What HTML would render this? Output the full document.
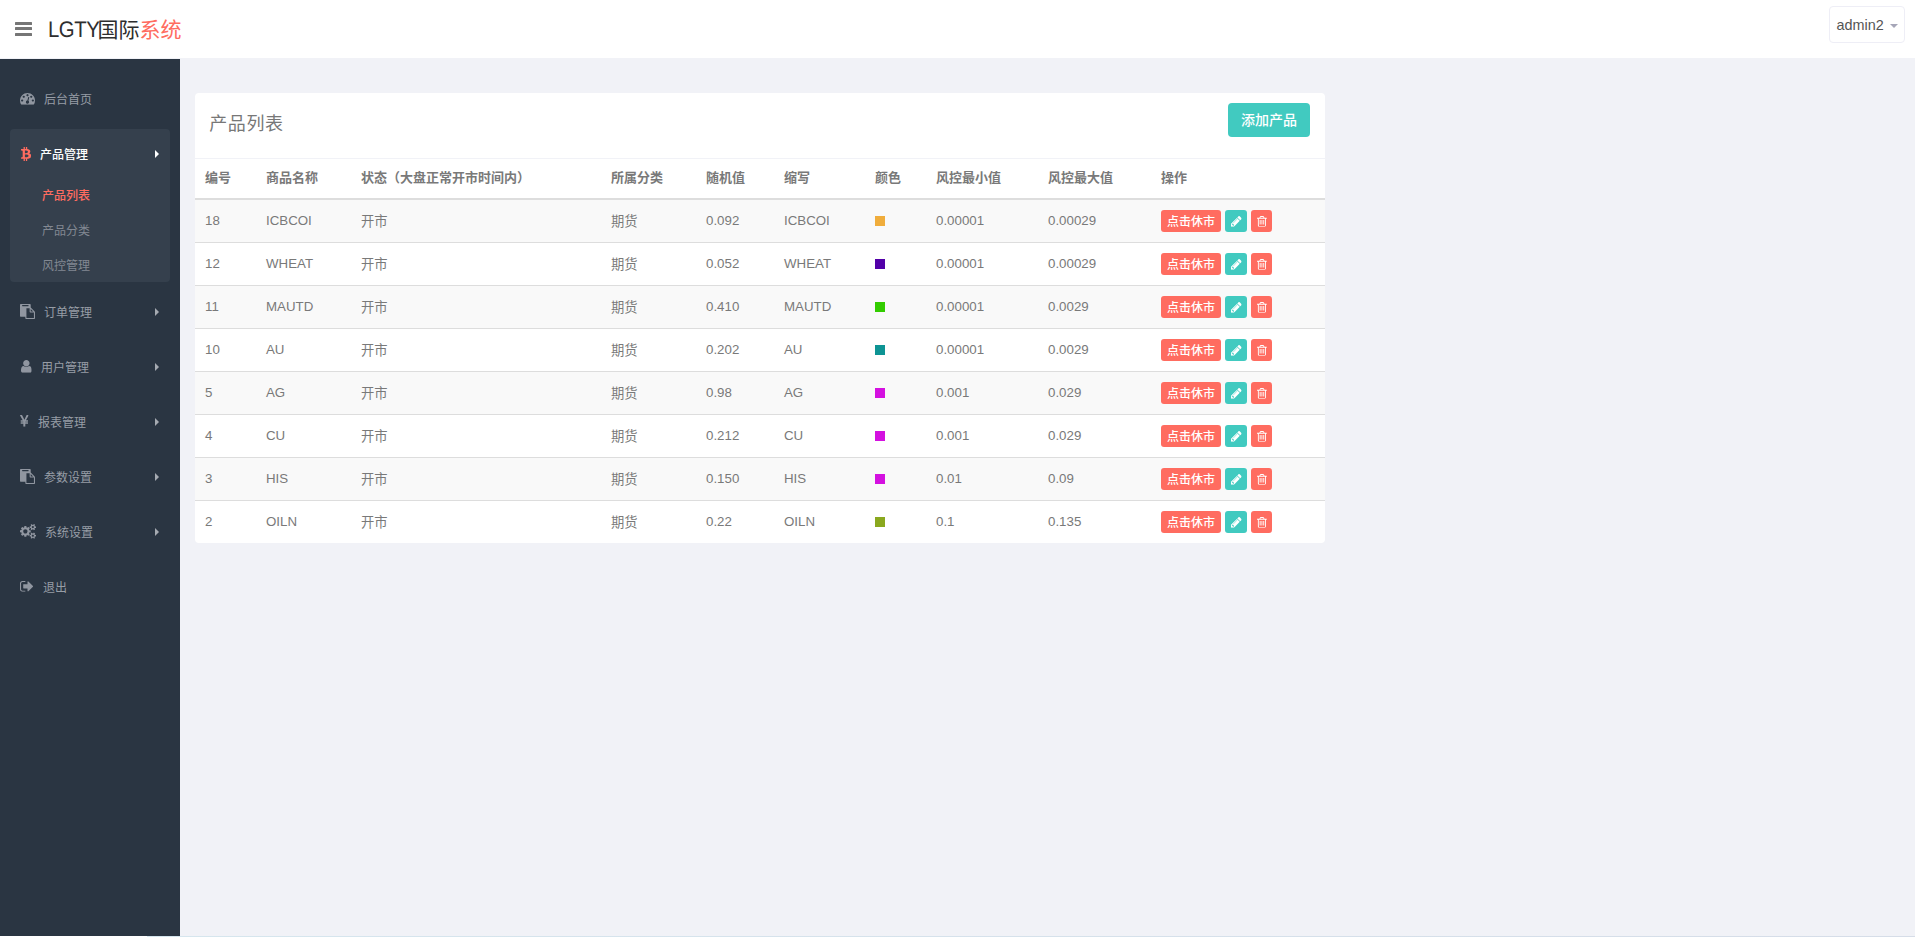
<!DOCTYPE html>
<html lang="zh-CN">
<head>
<meta charset="utf-8">
<title>LGTY国际系统</title>
<style>
*{box-sizing:border-box;}
html,body{margin:0;padding:0;}
body{width:1915px;height:937px;overflow:hidden;background:#f1f2f7;color:#797979;font-family:"Liberation Sans","Noto Sans CJK SC",sans-serif;font-size:13px;position:relative;}
a{text-decoration:none;color:inherit;}
ul{list-style:none;margin:0;padding:0;}
svg{display:block;}

/* header */
#header{position:absolute;left:0;top:0;width:1915px;height:58px;background:#fff;}
#bars{position:absolute;left:15px;top:22px;width:17px;height:14px;}
#bars i{position:absolute;left:0;width:17px;height:3px;background:#767676;border-radius:.5px;}
#logo{position:absolute;left:47.6px;top:15px;height:30px;line-height:30px;font-size:21px;color:#2e2e2e;white-space:nowrap;}
#logo .lat{position:absolute;left:0px;top:0px;font-size:22.6px;letter-spacing:-.5px;transform:scaleX(.9);transform-origin:0 50%;text-rendering:geometricPrecision;}
#logo .cjk{position:absolute;left:50px;top:0;}
#logo .cjk span{color:#ff6c60;}
#user{position:absolute;left:1829px;top:6px;width:76px;height:37px;border:1px solid #eeeef6;border-radius:4px;background:#fff;color:#555;font-size:14.4px;line-height:37px;padding-left:6.5px;}
#user b{position:absolute;left:60px;top:17px;width:0;height:0;border-left:4px solid transparent;border-right:4px solid transparent;border-top:4px solid #a6a6b8;}

/* sidebar */
#sidebar{position:absolute;left:0;top:59px;width:180px;height:877px;background:#2a3542;}
#bottomline{position:absolute;left:0;top:936px;width:1915px;height:1px;background:linear-gradient(90deg,#fff 0,#fff 147px,#d6e6ee 147px,#d6dde8 100%);}
.mi{position:absolute;left:10px;width:160px;height:50px;color:#979da6;font-size:12px;line-height:50px;}
.ic{position:absolute;overflow:visible;}
.mi .t{position:absolute;top:1px;white-space:nowrap;}
.mi .car{position:absolute;left:145px;top:21px;width:0;height:0;border-top:4px solid transparent;border-bottom:4px solid transparent;border-left:4px solid #a5aab1;}
#grp{position:absolute;left:10px;top:70px;width:160px;height:153px;background:#35404d;border-radius:4px;}
.sub{position:absolute;left:42px;font-size:12px;color:#828892;line-height:35px;height:35px;white-space:nowrap;}

/* card */
#card{position:absolute;left:195px;top:93px;width:1130px;height:450px;background:#fff;border-radius:4px;overflow:hidden;}
#ctitle{position:absolute;left:14.3px;top:15.5px;font-size:18px;line-height:30px;color:#777;white-space:nowrap;letter-spacing:.55px;}
#addbtn{position:absolute;left:1033px;top:10px;width:82px;height:34px;background:#41cac0;border-radius:4px;color:#fff;font-size:14px;line-height:35px;text-align:center;font-weight:500;}
#hline{position:absolute;left:0;top:65px;width:1130px;height:1px;background:#f1f2f7;}
table{position:absolute;left:0;top:65px;width:1130px;border-collapse:collapse;table-layout:fixed;}
th{height:41px;padding:0 0 3px 10px;text-align:left;font-weight:bold;font-size:13px;color:#797979;border-bottom:2px solid #ddd;white-space:nowrap;}
td{height:43px;padding:0 0 0 10px;font-size:13.3px;color:#797979;border-top:1px solid #ddd;white-space:nowrap;vertical-align:middle;}
tbody tr:nth-child(odd) td{background:#f9f9f9;}
.sq{display:block;width:10px;height:10px;}
.ops{position:relative;height:20px;}
.b1{font-weight:500;position:absolute;left:0;top:-1px;width:60px;height:22px;background:#ff6c60;border-radius:3px;color:#fff;font-size:12px;line-height:25px;text-align:center;}
.b2{position:absolute;left:64px;top:-1px;width:22px;height:22px;background:#41cac0;border-radius:3px;}
.b3{position:absolute;left:90px;top:-1px;width:21px;height:22px;background:#ff6c60;border-radius:3px;}
.b2 svg,.b3 svg{position:absolute;}
</style>
</head>
<body>
<svg width="0" height="0" style="position:absolute"><symbol id="i-dash" viewBox="0 256 1792 1408" preserveAspectRatio="none"><path d="M384 1152q0-53-37.500-90.500t-90.500-37.500-90.500 37.500-37.500 90.500 37.500 90.500 90.500 37.500 90.500-37.500 37.500-90.500zm192-448q0-53-37.500-90.500t-90.500-37.500-90.500 37.500-37.500 90.500 37.500 90.500 90.500 37.500 90.500-37.500 37.500-90.500zm428 481l101-382q6-26-7.500-48.500t-38.500-29.500-48 6.500-30 39.500l-101 382q-60 5-107 43.500t-63 98.500q-20 77 20 146t117 89 146-20 89-117q16-60-6-117t-72-91zm660-33q0-53-37.500-90.500t-90.500-37.500-90.500 37.500-37.500 90.500 37.500 90.500 90.500 37.500 90.500-37.500 37.500-90.500zm-640-640q0-53-37.500-90.500t-90.500-37.500-90.500 37.500-37.500 90.500 37.500 90.500 90.500 37.500 90.500-37.500 37.500-90.500zm448 192q0-53-37.500-90.500t-90.500-37.500-90.500 37.500-37.500 90.500 37.500 90.500 90.500 37.500 90.500-37.500 37.500-90.500zm320 448q0 261-141 483-19 29-54 29h-1402q-35 0-54-29-141-221-141-483 0-182 71-348t191-286 286-191 348-71 348 71 286 191 191 286 71 348z"/></symbol><symbol id="i-user" viewBox="256 128 1280 1536" preserveAspectRatio="none"><path d="M1536 1399q0 109-62.500 187t-150.500 78h-854q-88 0-150.500-78t-62.500-187q0-85 8.500-160.500t31.500-152 58.500-131 94-89 134.500-34.500q131 128 313 128t313-128q76 0 134.500 34.500t94 89 58.500 131 31.500 152 8.500 160.500zm-256-887q0 159-112.500 271.500t-271.500 112.500-271.500-112.500-112.500-271.500 112.500-271.500 271.500-112.500 271.500 112.500 112.500 271.500z"/></symbol><symbol id="i-pencil" viewBox="128 149 1515 1515" preserveAspectRatio="none"><path d="M491 1536l91-91-235-235-91 91v107h128v128h107zm523-928q0-22-22-22-10 0-17 7l-542 542q-7 7-7 17 0 22 22 22 10 0 17-7l542-542q7-7 7-17zm-54-192l416 416-832 832h-416v-416zm683 96q0 53-37 90l-166 166-416-416 166-165q36-38 90-38 53 0 91 38l235 234q37 39 37 91z"/></symbol><symbol id="i-trash" viewBox="192 128 1408 1536" preserveAspectRatio="none"><path d="M704 736v576q0 14-9 23t-23 9h-64q-14 0-23-9t-9-23v-576q0-14 9-23t23-9h64q14 0 23 9t9 23zm256 0v576q0 14-9 23t-23 9h-64q-14 0-23-9t-9-23v-576q0-14 9-23t23-9h64q14 0 23 9t9 23zm256 0v576q0 14-9 23t-23 9h-64q-14 0-23-9t-9-23v-576q0-14 9-23t23-9h64q14 0 23 9t9 23zm128 724v-948h-896v948q0 22 7 40.500t14.500 27 10.500 8.500h832q3 0 10.500-8.500t14.500-27 7-40.500zm-672-1076h448l-48-117q-7-9-17-11h-317q-10 2-17 11zm928 32v64q0 14-9 23t-23 9h-96v948q0 83-47 143.500t-113 60.500h-832q-66 0-113-58.500t-47-141.500v-952h-96q-14 0-23-9t-9-23v-64q0-14 9-23t23-9h309l70-167q15-37 54-63t79-26h320q40 0 79 26t54 63l70 167h309q14 0 23 9t9 23z"/></symbol><symbol id="i-signout" viewBox="64 256 1568 1280" preserveAspectRatio="none"><path d="M704 1440q0 4 1 20t.5 26.500-3 23.500-10 19.500-20.500 6.500h-320q-119 0-203.500-84.500t-84.500-203.500v-704q0-119 84.500-203.500t203.500-84.500h320q13 0 22.500 9.500t9.500 22.500q0 4 1 20t.5 26.500-3 23.500-10 19.500-20.500 6.500h-320q-66 0-113 47t-47 113v704q0 66 47 113t113 47h312l11.500 1 11.500 3 8 5.500 7 9 2 13.500zm928-544q0 26-19 45l-544 544q-19 19-45 19t-45-19-19-45v-288h-448q-26 0-45-19t-19-45v-384q0-26 19-45t45-19h448v-288q0-26 19-45t45-19 45 19l544 544q19 19 19 45z"/></symbol><symbol id="i-paste" viewBox="0 0 1792 1792" preserveAspectRatio="none"><path d="M768 1664h896v-640h-416q-40 0-68-28t-28-68v-416h-384v1152zm256-1440v-64q0-13-9.500-22.500t-22.500-9.500h-704q-13 0-22.500 9.500t-9.500 22.500v64q0 13 9.500 22.500t22.500 9.500h704q13 0 22.500-9.500t9.500-22.500zm256 672h299l-299-299v299zm512 128v672q0 40-28 68t-68 28h-960q-40 0-68-28t-28-68v-160h-544q-40 0-68-28t-28-68v-1344q0-40 28-68t68-28h1088q40 0 68 28t28 68v328q21 13 36 28l408 408q28 28 48 76t20 88z"/></symbol><symbol id="i-btc" viewBox="56 384 1203 1664" preserveAspectRatio="none"><path d="M1167 896q18 182-131 258 117 28 175 103t45 214q-7 71-32.500 125t-64.500 89-97 58.500-121.500 34.500-145.500 15v255h-154v-251q-80 0-122-1v252h-154v-255q-18 0-54-.5t-55-.5h-200l31-183h111q50 0 58-51v-402h16q-6-1-16-1v-287q-13-68-89-68h-111v-164l212 1q64 0 97-1v-252h154v247q82-2 122-2v-245h154v252q79 7 140 22.500t113 45 82.500 78 36.500 114.500zm-215 545q0-36-15-64t-37-46-57.500-30.500-65.500-18.500-74-9-69-3-64.500 1-47.500 1v338q8 0 37 .5t48 .5 53-1.500 58.500-4 57-8.500 55.500-14 47.500-21 39.500-30 24.500-40 9.500-51zm-71-476q0-33-12.500-58.500t-30.500-42-48-28-55-16.500-61.500-8-58-2.500-54 1-39.500.5v307q5 0 34.500.5t46.500 0 50-2 55-5.500 51.500-11 48.500-18.500 37-27 27-38.500 9-51z"/></symbol><symbol id="i-yen" viewBox="382.5 128 1027 1408" preserveAspectRatio="none"><path d="M985.500 1536h-172q-13 0-22.500-9t-9.500-23v-330h-288q-13 0-22.500-9t-9.500-23v-103q0-13 9.500-22.500t22.500-9.500h288v-85h-288q-13 0-22.500-9t-9.500-23v-104q0-13 9.500-22.500t22.500-9.500h214l-321-578q-8-16 0-32 10-16 28-16h194q19 0 29 18l215 425q19 38 56 125 10-24 30.500-68t27.500-61l191-420q8-19 29-19h191q17 0 27 16 9 14 1 31l-313 579h215q13 0 22.500 9.500t9.500 22.500v104q0 14-9.500 23t-22.500 9h-290v85h290q13 0 22.500 9.500t9.500 22.500v103q0 14-9.500 23t-22.500 9h-290v330q0 13-9.500 22.500t-22.500 9.500z"/></symbol><symbol id="i-cogs" viewBox="0 16 1920 1761" preserveAspectRatio="none"><path d="M896 896q0-106-75-181t-181-75-181 75-75 181 75 181 181 75 181-75 75-181zm768 512q0-52-38-90t-90-38-90 38-38 90q0 53 37.500 90.500t90.500 37.500 90.500-37.500 37.500-90.500zm0-1024q0-52-38-90t-90-38-90 38-38 90q0 53 37.500 90.500t90.500 37.500 90.500-37.500 37.500-90.500zm-384 421v185q0 10-7 19.500t-16 10.500l-155 24q-11 35-32 76 34 48 90 115 7 11 7 20 0 12-7 19-23 30-82.500 89.500t-78.500 59.500q-11 0-21-7l-115-90q-37 19-77 31-11 108-23 155-7 24-30 24h-186q-11 0-20-7.500t-10-17.500l-23-153q-34-10-75-31l-118 89q-7 7-20 7-11 0-21-8-144-133-144-160 0-9 7-19 10-14 41-53t47-61q-23-44-35-82l-152-24q-10-1-17-9.500t-7-19.500v-185q0-10 7-19.500t16-10.500l155-24q11-35 32-76-34-48-90-115-7-11-7-20 0-12 7-20 22-30 82-89t79-59q11 0 21 7l115 90q34-18 77-32 11-108 23-154 7-24 30-24h186q11 0 20 7.500t10 17.500l23 153q34 10 75 31l118-89q8-7 20-7 11 0 21 8 144 133 144 160 0 8-7 19-12 16-42 54t-45 60q23 48 34 82l152 23q10 2 17 10.500t7 19.500zm640 533v140q0 16-149 31-12 27-30 52 51 113 51 138 0 4-4 7-122 71-124 71-8 0-46-47t-52-68q-20 2-30 2t-30-2q-14 21-52 68t-46 47q-2 0-124-71-4-3-4-7 0-25 51-138-18-25-30-52-149-15-149-31v-140q0-16 149-31 13-29 30-52-51-113-51-138 0-4 4-7 4-2 35-20t59-34 30-16q8 0 46 46.500t52 67.500q20-2 30-2t30 2q51-71 92-112l6-2q4 0 124 70 4 3 4 7 0 25-51 138 17 23 30 52 149 15 149 31zm0-1024v140q0 16-149 31-12 27-30 52 51 113 51 138 0 4-4 7-122 71-124 71-8 0-46-47t-52-68q-20 2-30 2t-30-2q-14 21-52 68t-46 47q-2 0-124-71-4-3-4-7 0-25 51-138-18-25-30-52-149-15-149-31v-140q0-16 149-31 13-29 30-52-51-113-51-138 0-4 4-7 4-2 35-20t59-34 30-16q8 0 46 46.500t52 67.500q20-2 30-2t30 2q51-71 92-112l6-2q4 0 124 70 4 3 4 7 0 25-51 138 17 23 30 52 149 15 149 31z"/></symbol></svg>
<div id="header">
  <div id="bars"><i style="top:0"></i><i style="top:5px"></i><i style="top:11px"></i></div>
  <div id="logo"><span class="lat">LGTY</span><span class="cjk">国际<span>系统</span></span></div>
  <div id="user">admin2<b></b></div>
</div>

<div id="sidebar">
  <div id="grp"></div>
  <svg class="ic" style="left:20.00px;top:34.11px" width="15.00" height="11.79" fill="#9096a0"><use href="#i-dash"/></svg>
  <svg class="ic" style="left:20.62px;top:88.44px" width="10.07" height="13.93" fill="#ff6c60"><use href="#i-btc"/></svg>
  <svg class="ic" style="left:20.10px;top:244.85px" width="15.00" height="15.00" fill="#9096a0"><use href="#i-paste"/></svg>
  <svg class="ic" style="left:20.64px;top:301.12px" width="10.71" height="12.86" fill="#9096a0"><use href="#i-user"/></svg>
  <svg class="ic" style="left:20.15px;top:355.91px" width="8.60" height="11.79" fill="#9096a0"><use href="#i-yen"/></svg>
  <svg class="ic" style="left:20.10px;top:410.15px" width="15.00" height="15.00" fill="#9096a0"><use href="#i-paste"/></svg>
  <svg class="ic" style="left:19.91px;top:465.08px" width="16.07" height="14.74" fill="#9096a0"><use href="#i-cogs"/></svg>
  <svg class="ic" style="left:20.09px;top:522.24px" width="13.12" height="10.71" fill="#9096a0"><use href="#i-signout"/></svg>
  <a class="mi" style="top:15px"><span class="t" style="left:34px">后台首页</span></a>
  <a class="mi" style="top:70px;color:#fff;font-weight:500"><span class="t" style="left:30px">产品管理</span><i class="car" style="border-left-color:#fff"></i></a>
  <a class="sub" style="top:120px;color:#ff6c60;font-weight:500">产品列表</a>
  <a class="sub" style="top:155px">产品分类</a>
  <a class="sub" style="top:190px">风控管理</a>
  <a class="mi" style="top:228px"><span class="t" style="left:34px">订单管理</span><i class="car"></i></a>
  <a class="mi" style="top:283px"><span class="t" style="left:31px">用户管理</span><i class="car"></i></a>
  <a class="mi" style="top:338px"><span class="t" style="left:28px">报表管理</span><i class="car"></i></a>
  <a class="mi" style="top:393px"><span class="t" style="left:34px">参数设置</span><i class="car"></i></a>
  <a class="mi" style="top:448px"><span class="t" style="left:35px">系统设置</span><i class="car"></i></a>
  <a class="mi" style="top:503px"><span class="t" style="left:33px">退出</span></a>
</div>

<div id="card">
  <div id="ctitle">产品列表</div>
  <div id="addbtn">添加产品</div>
  <div id="hline"></div>
  <table>
    <colgroup><col style="width:61px"><col style="width:95px"><col style="width:250px"><col style="width:95px"><col style="width:78px"><col style="width:91px"><col style="width:61px"><col style="width:112px"><col style="width:113px"><col style="width:174px"></colgroup>
    <thead><tr><th>编号</th><th>商品名称</th><th>状态（大盘正常开市时间内）</th><th>所属分类</th><th>随机值</th><th>缩写</th><th>颜色</th><th>风控最小值</th><th>风控最大值</th><th>操作</th></tr></thead>
    <tbody>
    <tr><td>18</td><td>ICBCOI</td><td>开市</td><td>期货</td><td>0.092</td><td>ICBCOI</td><td><i class="sq" style="background:#f0ad3c"></i></td><td>0.00001</td><td>0.00029</td><td><div class="ops"><span class="b1">点击休市</span><span class="b2"><svg style="left:6.12px;top:6.57px" width="10.65" height="10.65" fill="#fff"><use href="#i-pencil"/></svg></span><span class="b3"><svg style="left:5.80px;top:6.30px" width="9.90" height="10.80" fill="#fff"><use href="#i-trash"/></svg></span></div></td></tr>
    <tr><td>12</td><td>WHEAT</td><td>开市</td><td>期货</td><td>0.052</td><td>WHEAT</td><td><i class="sq" style="background:#5200a8"></i></td><td>0.00001</td><td>0.00029</td><td><div class="ops"><span class="b1">点击休市</span><span class="b2"><svg style="left:6.12px;top:6.57px" width="10.65" height="10.65" fill="#fff"><use href="#i-pencil"/></svg></span><span class="b3"><svg style="left:5.80px;top:6.30px" width="9.90" height="10.80" fill="#fff"><use href="#i-trash"/></svg></span></div></td></tr>
    <tr><td>11</td><td>MAUTD</td><td>开市</td><td>期货</td><td>0.410</td><td>MAUTD</td><td><i class="sq" style="background:#33cc00"></i></td><td>0.00001</td><td>0.0029</td><td><div class="ops"><span class="b1">点击休市</span><span class="b2"><svg style="left:6.12px;top:6.57px" width="10.65" height="10.65" fill="#fff"><use href="#i-pencil"/></svg></span><span class="b3"><svg style="left:5.80px;top:6.30px" width="9.90" height="10.80" fill="#fff"><use href="#i-trash"/></svg></span></div></td></tr>
    <tr><td>10</td><td>AU</td><td>开市</td><td>期货</td><td>0.202</td><td>AU</td><td><i class="sq" style="background:#0e9494"></i></td><td>0.00001</td><td>0.0029</td><td><div class="ops"><span class="b1">点击休市</span><span class="b2"><svg style="left:6.12px;top:6.57px" width="10.65" height="10.65" fill="#fff"><use href="#i-pencil"/></svg></span><span class="b3"><svg style="left:5.80px;top:6.30px" width="9.90" height="10.80" fill="#fff"><use href="#i-trash"/></svg></span></div></td></tr>
    <tr><td>5</td><td>AG</td><td>开市</td><td>期货</td><td>0.98</td><td>AG</td><td><i class="sq" style="background:#d411e0"></i></td><td>0.001</td><td>0.029</td><td><div class="ops"><span class="b1">点击休市</span><span class="b2"><svg style="left:6.12px;top:6.57px" width="10.65" height="10.65" fill="#fff"><use href="#i-pencil"/></svg></span><span class="b3"><svg style="left:5.80px;top:6.30px" width="9.90" height="10.80" fill="#fff"><use href="#i-trash"/></svg></span></div></td></tr>
    <tr><td>4</td><td>CU</td><td>开市</td><td>期货</td><td>0.212</td><td>CU</td><td><i class="sq" style="background:#d411e0"></i></td><td>0.001</td><td>0.029</td><td><div class="ops"><span class="b1">点击休市</span><span class="b2"><svg style="left:6.12px;top:6.57px" width="10.65" height="10.65" fill="#fff"><use href="#i-pencil"/></svg></span><span class="b3"><svg style="left:5.80px;top:6.30px" width="9.90" height="10.80" fill="#fff"><use href="#i-trash"/></svg></span></div></td></tr>
    <tr><td>3</td><td>HIS</td><td>开市</td><td>期货</td><td>0.150</td><td>HIS</td><td><i class="sq" style="background:#d411e0"></i></td><td>0.01</td><td>0.09</td><td><div class="ops"><span class="b1">点击休市</span><span class="b2"><svg style="left:6.12px;top:6.57px" width="10.65" height="10.65" fill="#fff"><use href="#i-pencil"/></svg></span><span class="b3"><svg style="left:5.80px;top:6.30px" width="9.90" height="10.80" fill="#fff"><use href="#i-trash"/></svg></span></div></td></tr>
    <tr><td>2</td><td>OILN</td><td>开市</td><td>期货</td><td>0.22</td><td>OILN</td><td><i class="sq" style="background:#8aa81e"></i></td><td>0.1</td><td>0.135</td><td><div class="ops"><span class="b1">点击休市</span><span class="b2"><svg style="left:6.12px;top:6.57px" width="10.65" height="10.65" fill="#fff"><use href="#i-pencil"/></svg></span><span class="b3"><svg style="left:5.80px;top:6.30px" width="9.90" height="10.80" fill="#fff"><use href="#i-trash"/></svg></span></div></td></tr>
    </tbody>
  </table>
</div>
<div id="bottomline"></div>
</body>
</html>
